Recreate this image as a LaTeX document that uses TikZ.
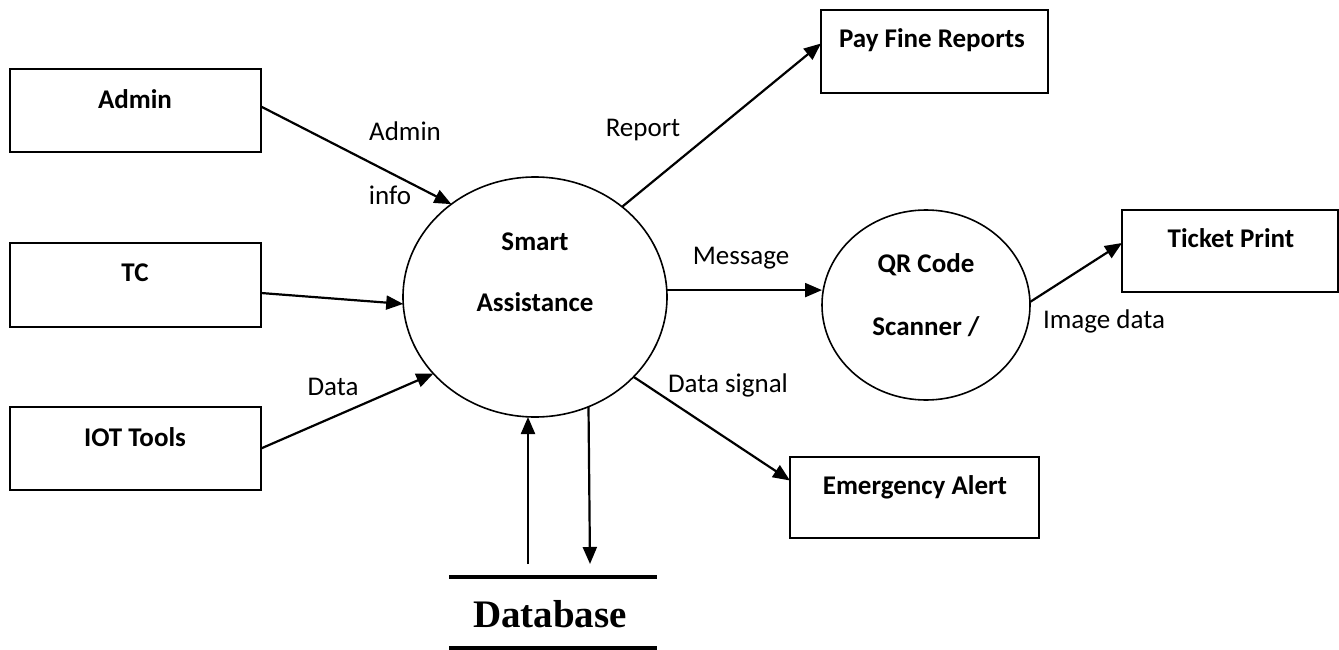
\documentclass[tikz,border=0pt]{standalone}
\usepackage{fontspec}
\setmainfont{Carlito}
\newfontfamily\dbfont{Liberation Serif}
\usetikzlibrary{arrows.meta,shapes.geometric}
\begin{document}
\begin{tikzpicture}[x=1pt,y=-1pt,
  every node/.style={inner sep=0pt,outer sep=0pt},
  entity/.style={draw,line width=1.6pt,rectangle},
  proc/.style={draw,line width=1.6pt,ellipse},
  btext/.style={font=\fontsize{27}{31}\selectfont\bfseries,anchor=center},
  ltext/.style={font=\fontsize{27}{31}\selectfont,anchor=center},
  flow/.style={line width=2.2pt,-{Triangle[length=17pt,width=14pt]}},
  dbline/.style={line width=4pt}]
\useasboundingbox (0,0) rectangle (1339,650);
% entities
\node[entity,minimum width=251pt,minimum height=83pt] (admin) at (135.5,110.5) {};
\node[btext] (admint) at (135,99) {Admin};
\node[entity,minimum width=251pt,minimum height=84pt] (tc) at (135.5,285) {};
\node[btext] (tct) at (135,273) {TC};
\node[entity,minimum width=251pt,minimum height=83pt] (iot) at (135.5,448.5) {};
\node[btext] (iott) at (135,437) {IOT Tools};
\node[entity,minimum width=227pt,minimum height=83pt] (pay) at (934.5,51.5) {};
\node[btext] (payt) at (932,40) {Pay Fine Reports};
\node[entity,minimum width=216pt,minimum height=82pt] (ticket) at (1230,251) {};
\node[btext] (tickett) at (1231,238) {Ticket Print};
\node[entity,minimum width=249pt,minimum height=81pt] (emerg) at (914.5,497.5) {};
\node[btext] (emergt) at (915,487) {Emergency Alert};
% processes
\node[proc,minimum width=264pt,minimum height=240pt] (sa) at (535,297) {};
\node[btext] (sat1) at (535,242) {Smart};
\node[btext] (sat2) at (535,302) {Assistance};
\node[proc,minimum width=208pt,minimum height=190pt] (qr) at (926,305) {};
\node[btext] (qrt1) at (926,265) {QR Code};
\node[btext] (qrt2) at (926,327) {Scanner /};
% data store
\node[minimum width=208pt,minimum height=71pt] (db) at (553,612.5) {};
\node[font=\dbfont\fontsize{39}{42}\selectfont\bfseries] (dbt) at (550,614) {Database};
\draw[dbline] (db.north west) -- (db.north east);
\draw[dbline] (db.south west) -- (db.south east);
% flows
\draw[flow] ([yshift=4pt]admin.east) -- (sa.132);
\draw[flow] ([yshift=-8pt]tc.east) -- (sa.183);
\draw[flow] (iot.east) -- (sa.217);
\draw[flow] (sa.46) -- ([yshift=8pt]pay.west);
\draw[flow] (sa.3) -- (sa.3 -| qr.west);
\draw[flow] ([yshift=3pt]qr.east) -- ([yshift=8pt]ticket.west);
\draw[flow] (sa.-39) -- ([yshift=17pt]emerg.west);
\draw[flow] ([xshift=-25pt,yshift=13pt]db.north) -- ([xshift=-25pt]db.north |- sa.south);
\draw[flow] (sa.-64) -- ([xshift=37pt,yshift=13pt]db.north);
% labels
\node[ltext] (l1) at (405,131) {Admin};
\node[ltext] (l2) at (390,195) {info};
\node[ltext] (l3) at (333,387) {Data};
\node[ltext] (l4) at (643,130) {Report};
\node[ltext] (l5) at (741,258) {Message};
\node[ltext] (l6) at (1104,321) {Image data};
\node[ltext] (l7) at (728,385) {Data signal};
\end{tikzpicture}
\end{document}
